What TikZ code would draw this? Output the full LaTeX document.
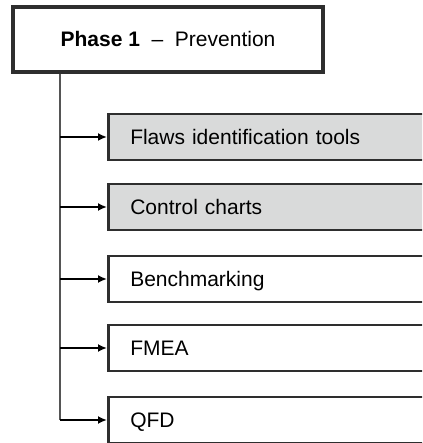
\documentclass[tikz,border=0pt]{standalone}
\usepackage{fontspec}
\setmainfont{Liberation Sans}
\usepackage{xcolor}
\usetikzlibrary{arrows.meta,positioning}

\definecolor{edgegray}{HTML}{2E2E2E}
\definecolor{trunkgray}{HTML}{555555}
\definecolor{fillgray}{HTML}{D9DADA}

\begin{document}
\begin{tikzpicture}[x=1pt, y=1pt,
    every node/.style={font=\fontsize{21}{25}\selectfont, text height=15pt, text depth=0pt},
    phase/.style={draw=edgegray, line width=4pt, fill=white, minimum width=310pt, minimum height=65pt},
    tool/.style={draw=edgegray, line width=2.5pt, fill=white, anchor=west, minimum width=330pt, minimum height=46pt, text width=300pt, inner xsep=22pt, align=left},
    marked/.style={tool, fill=fillgray},
    arrowline/.style={black, line width=2.2pt, -{Latex[length=9pt,width=8pt]}}]
    \useasboundingbox (0,0) rectangle (422,443);
    \clip (0,0) rectangle (422,443);

    % Phase header
    \node[phase] (phase) at (168,403.5) {\textbf{Phase 1}~~–~~Prevention};

    % Tool nodes
    \node[marked] (t1) at (107,306) {Flaws identification tools};
    \node[marked] (t2) at (107,236) {Control charts};
    \node[tool] (t3) at (107,164) {Benchmarking};
    \node[tool] (t4) at (107,95) {FMEA};
    \node[tool] (t5) at (107,23) {QFD};

    % Trunk line
    \coordinate (trunk) at (60,23);
    \draw[trunkgray, line width=2pt] (phase.south -| trunk) -- (trunk);

    % Branch arrows
    \foreach \tl in {t1,t2,t3,t4,t5}
        \draw[arrowline] (\tl.west -| trunk) -- (\tl.west);
\end{tikzpicture}
\end{document}
